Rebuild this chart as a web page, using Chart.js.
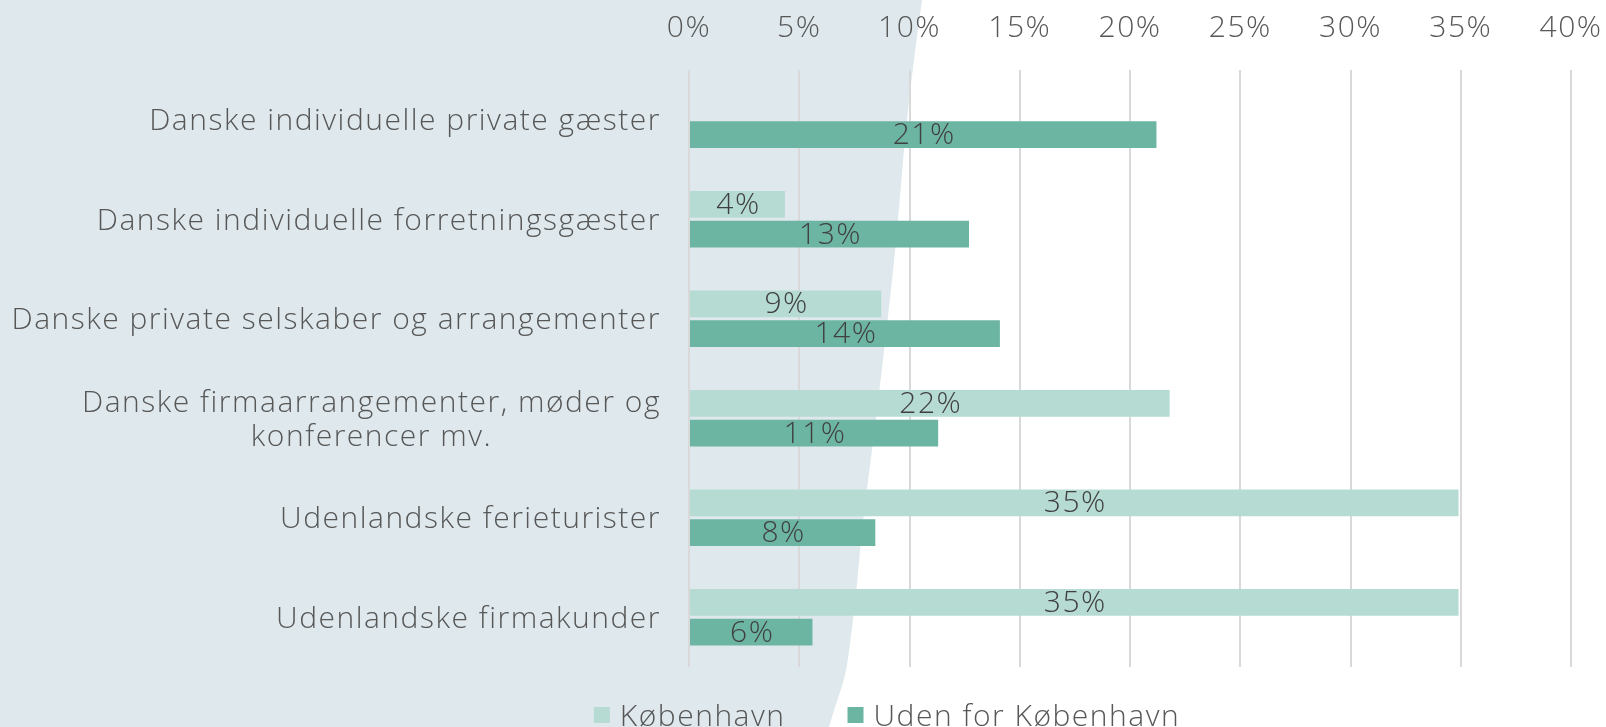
<!DOCTYPE html>
<html>
<head>
<meta charset="utf-8">
<script src="https://cdn.jsdelivr.net/npm/chart.js@4.4.1/dist/chart.umd.min.js"></script>
<style>
  html, body { margin: 0; padding: 0; background: #ffffff; }
  #wrap { position: relative; width: 1606px; height: 727px; overflow: hidden; }
</style>
</head>
<body>
<div id="wrap"><canvas id="c" width="1606" height="727"></canvas></div>
<script>
// ---- data ----
const categories = [
  ['Danske individuelle private gæster'],
  ['Danske individuelle forretningsgæster'],
  ['Danske private selskaber og arrangementer'],
  ['Danske firmaarrangementer, møder og', 'konferencer mv.'],
  ['Udenlandske ferieturister'],
  ['Udenlandske firmakunder']
];
const seriesNames = ['København', 'Uden for København'];
const kobenhavnValues = [null, 4.35, 8.72, 21.8, 34.9, 34.9];
const udenforValues = [21.2, 12.7, 14.1, 11.3, 8.45, 5.6];
const xTickValues = [0, 5, 10, 15, 20, 25, 30, 35, 40];

// ---- style ----
const FONT = '"Open Sans", Lato, sans-serif';
const FW = '300';
const FS = 30;
const LS = '1.5px';
const TEXT = '#575757';
const LABEL = '#404040';
const COLORS = ['#b6dbd3', '#6db5a3'];
const BG = '#dfe9ed';

const spacing = {
  id: 'spacing',
  beforeUpdate(chart) { chart.ctx.letterSpacing = LS; },
  beforeLayout(chart) { chart.ctx.letterSpacing = LS; },
  beforeDraw(chart) { chart.ctx.letterSpacing = LS; }
};

const backgroundShape = {
  id: 'backgroundShape',
  beforeDraw(chart) {
    const ctx = chart.ctx;
    const pts = [[922, 0], [908, 100], [897, 234], [888, 317], [876, 420], [862, 527], [857, 587], [850, 644], [847, 667], [842, 687], [835, 707], [829, 727]];
    ctx.save();
    ctx.fillStyle = '#ffffff';
    ctx.fillRect(0, 0, chart.width, chart.height);
    ctx.fillStyle = BG;
    ctx.beginPath();
    ctx.moveTo(0, 0);
    ctx.lineTo(pts[0][0], pts[0][1]);
    for (let i = 1; i < pts.length - 1; i++) {
      const mx = (pts[i][0] + pts[i + 1][0]) / 2, my = (pts[i][1] + pts[i + 1][1]) / 2;
      ctx.quadraticCurveTo(pts[i][0], pts[i][1], mx, my);
    }
    const last = pts[pts.length - 1];
    ctx.lineTo(last[0], last[1]);
    ctx.lineTo(0, chart.height);
    ctx.closePath();
    ctx.fill();
    ctx.restore();
  }
};

const categoryLabels = {
  id: 'categoryLabels',
  afterDraw(chart) {
    const ctx = chart.ctx;
    const ys = chart.scales.y;
    const right = chart.chartArea.left - 28;
    const lh = 34;
    ctx.save();
    ctx.letterSpacing = LS;
    ctx.font = `${FW} ${FS}px ${FONT}`;
    ctx.fillStyle = TEXT;
    ctx.textAlign = 'center';
    ctx.textBaseline = 'alphabetic';
    categories.forEach((lines, i) => {
      const y = ys.getPixelForValue(i);
      const w = Math.max(...lines.map(l => ctx.measureText(l).width));
      const cx = right - w / 2;
      lines.forEach((line, j) => {
        const by = y - (lines.length - 1) * lh / 2 + j * lh + 10.5;
        ctx.fillText(line, cx, by);
      });
    });
    ctx.restore();
  }
};

const valueLabels = {
  id: 'valueLabels',
  afterDatasetsDraw(chart) {
    const ctx = chart.ctx;
    ctx.save();
    ctx.letterSpacing = LS;
    ctx.font = `${FW} ${FS}px ${FONT}`;
    ctx.fillStyle = LABEL;
    ctx.textAlign = 'center';
    ctx.textBaseline = 'middle';
    chart.data.datasets.forEach((ds, di) => {
      const meta = chart.getDatasetMeta(di);
      meta.data.forEach((el, i) => {
        const v = ds.data[i];
        if (v === null || v === undefined) return;
        ctx.fillText(Math.round(v) + '%', (el.x + el.base) / 2 + 1, el.y + 1);
      });
    });
    ctx.restore();
  }
};

const customLegend = {
  id: 'customLegend',
  afterDraw(chart) {
    const ctx = chart.ctx;
    ctx.save();
    ctx.letterSpacing = LS;
    ctx.font = `${FW} ${FS}px ${FONT}`;
    const box = 16, gapText = 10, gapItem = 62;
    const items = chart.data.datasets.map(ds => ({ text: ds.label, color: ds.backgroundColor, w: ctx.measureText(ds.label).width }));
    const total = items.reduce((s, it) => s + box + gapText + it.w, 0) + gapItem * (items.length - 1);
    let x = 887 - total / 2;
    const boxTop = 707;
    ctx.textBaseline = 'alphabetic';
    ctx.textAlign = 'left';
    items.forEach(it => {
      ctx.fillStyle = it.color;
      ctx.fillRect(x, boxTop, box, box);
      ctx.fillStyle = TEXT;
      ctx.fillText(it.text, x + box + gapText, boxTop + box / 2 + 10.5);
      x += box + gapText + it.w + gapItem;
    });
    ctx.restore();
  }
};

new Chart(document.getElementById('c'), {
  type: 'bar',
  data: {
    labels: categories.map(c => c.join(' ')),
    datasets: [
      { label: seriesNames[0], data: kobenhavnValues, backgroundColor: COLORS[0], categoryPercentage: 0.6, barPercentage: 0.9 },
      { label: seriesNames[1], data: udenforValues, backgroundColor: COLORS[1], categoryPercentage: 0.6, barPercentage: 0.9 }
    ]
  },
  options: {
    indexAxis: 'y',
    responsive: false,
    devicePixelRatio: 1,
    animation: false,
    layout: { padding: { top: 0, right: 35, bottom: 60, left: 0 } },
    plugins: {
      legend: { display: false },
      tooltip: { enabled: false }
    },
    scales: {
      x: {
        position: 'top',
        min: 0,
        max: 40,
        afterBuildTicks(scale) { scale.ticks = xTickValues.map(v => ({ value: v })); },
        afterFit(scale) { scale.height = 70; scale.paddingRight = 0; scale.paddingLeft = 0; },
        ticks: {
          callback: v => v + '%',
          font: { family: FONT, size: FS, weight: FW },
          color: TEXT,
          padding: 24,
          maxRotation: 0
        },
        grid: { color: '#d9d9d9', lineWidth: 2, drawTicks: false },
        border: { display: false }
      },
      y: {
        afterFit(scale) { scale.width = 689; },
        ticks: { display: false },
        grid: { display: false },
        border: { display: false }
      }
    }
  },
  plugins: [spacing, backgroundShape, categoryLabels, valueLabels, customLegend]
});
</script>
</body>
</html>
